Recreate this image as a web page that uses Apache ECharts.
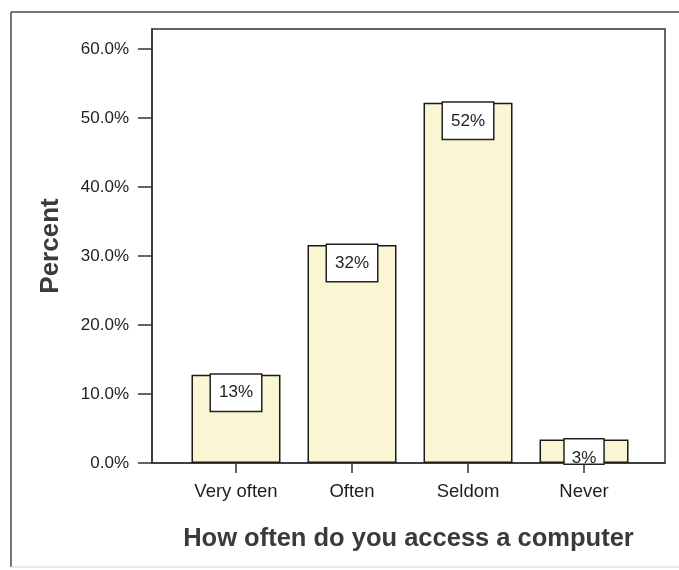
<!DOCTYPE html>
<html>
<head>
<meta charset="utf-8">
<script src="https://cdn.jsdelivr.net/npm/echarts@6/dist/echarts.min.js"></script>
<style>
  html, body { margin: 0; padding: 0; background: #fff; }
  #chart { width: 679px; height: 570px; }
</style>
</head>
<body>
<div id="chart"></div>
<script>
// Survey: how often respondents access a computer (percent of respondents)
const categories = ['Very often', 'Often', 'Seldom', 'Never'];
const percents = [12.8, 31.6, 52.2, 3.4];
const yTicks = [0, 10, 20, 30, 40, 50, 60];

const chart = echarts.init(document.getElementById('chart'), null, { renderer: 'canvas' });

const font = 'Arial, "Liberation Sans", Helvetica, sans-serif';
const barFill = '#faf5d2';
const ink = '#1e1e1e';

const labelBase = {
  show: true,
  position: 'insideTop',
  distance: 0,
  formatter: p => Math.round(p.value[1]) + '%',
  fontFamily: font,
  fontSize: 17,
  lineHeight: 18,
  color: ink,
  backgroundColor: '#ffffff',
  borderColor: '#222',
  borderWidth: 1.5,
  padding: [9, 8, 9, 8]
};

const seriesData = percents.map((v, i) => {
  const item = { value: [i, v] };
  // a short bar: the label box stops at the baseline
  if (v < 6) {
    item.label = { padding: [10, 7, 0, 7], height: 14, verticalAlign: 'top' };
  }
  return item;
});

const option = {
  animation: false,
  backgroundColor: '#ffffff',
  textStyle: { fontFamily: font },
  graphic: [
    { type: 'line', shape: { x1: 11, y1: 12, x2: 679, y2: 12 }, style: { stroke: '#4a4a4a', lineWidth: 1.5 } },
    { type: 'line', shape: { x1: 11, y1: 12, x2: 11, y2: 567 }, style: { stroke: '#4a4a4a', lineWidth: 1.5 } },
    { type: 'line', shape: { x1: 11, y1: 567, x2: 679, y2: 567 }, style: { stroke: '#d6d6d6', lineWidth: 1 } }
  ],
  grid: {
    left: 152, top: 29, right: 14, bottom: 107,
    show: true,
    borderColor: '#333',
    borderWidth: 1.5,
    backgroundColor: 'transparent'
  },
  xAxis: {
    type: 'value',
    min: -0.724,
    max: 3.698,
    splitLine: { show: false },
    axisLine: { show: true, onZero: false, lineStyle: { color: '#333', width: 1.5 } },
    axisTick: { show: true, length: 10, customValues: categories.map((c, i) => i), lineStyle: { color: '#333', width: 1.5 } },
    axisLabel: {
      customValues: categories.map((c, i) => i),
      formatter: v => categories[Math.round(v)] || '',
      margin: 19,
      fontSize: 18.5,
      color: ink,
      fontFamily: font
    },
    name: 'How often do you access a computer',
    nameLocation: 'middle',
    nameGap: 63,
    nameTextStyle: { fontSize: 25.5, fontWeight: 'bold', color: '#3a3a3a', fontFamily: font }
  },
  yAxis: {
    type: 'value',
    min: 0,
    max: 62.9,
    interval: 10,
    splitLine: { show: false },
    axisLine: { show: true, onZero: false, lineStyle: { color: '#333', width: 1.5 } },
    axisTick: { show: true, length: 14, customValues: yTicks, lineStyle: { color: '#333', width: 1.5 } },
    axisLabel: {
      customValues: yTicks,
      formatter: v => (yTicks.indexOf(v) >= 0 ? v.toFixed(1) + '%' : ''),
      margin: 23,
      fontSize: 17,
      color: ink,
      fontFamily: font
    },
    name: 'Percent',
    nameLocation: 'middle',
    nameRotate: 90,
    nameGap: 88,
    nameTextStyle: { fontSize: 26, fontWeight: 'bold', color: '#3a3a3a', fontFamily: font }
  },
  series: [{
    type: 'bar',
    data: seriesData,
    barWidth: 89,
    itemStyle: { color: barFill, borderColor: '#1a1a1a', borderWidth: 1.5 },
    label: labelBase
  }]
};

chart.setOption(option);
</script>
</body>
</html>
